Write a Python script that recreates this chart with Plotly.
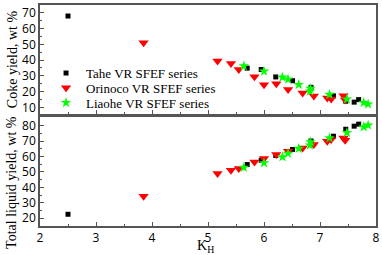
import plotly.graph_objects as go
from plotly.subplots import make_subplots

# Tahe VR SFEF series
tahe_k = [2.50, 5.70, 5.95, 6.21, 6.51, 6.84, 7.24, 7.46, 7.61, 7.69]
tahe_coke = [68.0, 34.9, 34.0, 29.3, 26.9, 22.7, 17.3, 13.9, 13.3, 14.9]
tahe_liquid = [22.6, 54.8, 57.6, 60.7, 64.6, 70.1, 73.2, 77.7, 79.7, 81.0]

# Orinoco VR SFEF series
orin_k = [3.85, 5.17, 5.41, 5.55, 5.83, 6.00, 6.22, 6.43, 6.69, 6.89, 7.13, 7.20, 7.42, 7.45]
orin_coke = [51.0, 39.5, 37.8, 34.0, 29.5, 24.4, 25.0, 21.3, 19.1, 17.2, 16.0, 15.3, 17.3, 14.7]
orin_liquid = [34.3, 49.0, 51.1, 52.2, 56.5, 58.7, 61.3, 63.5, 65.6, 67.8, 69.9, 71.1, 72.1, 70.5]

# Liaohe VR SFEF series
liao_k = [5.64, 6.00, 6.33, 6.43, 6.62, 6.83, 6.82, 7.17, 7.48, 7.78, 7.86]
liao_coke = [36.2, 32.9, 29.1, 27.8, 24.4, 21.9, 20.2, 18.1, 15.2, 13.0, 12.0]
liao_liquid = [52.9, 55.9, 59.8, 62.0, 65.2, 69.5, 67.4, 72.1, 75.5, 79.2, 80.3]

x_ticks = [2, 3, 4, 5, 6, 7, 8]
coke_ticks = [10, 20, 30, 40, 50, 60, 70]
liquid_ticks = [20, 30, 40, 50, 60, 70, 80]

fig = make_subplots(rows=2, cols=1, shared_xaxes=False, vertical_spacing=0.0)

series = [
    ("Tahe VR SFEF series", tahe_k, tahe_coke, tahe_liquid, "square", "black", 5, "legend", 0.692),
    ("Orinoco VR SFEF series", orin_k, orin_coke, orin_liquid, "triangle-down", "red", 9, "legend2", 0.625),
    ("Liaohe VR SFEF series", liao_k, liao_coke, liao_liquid, "star", "#00ff00", 8, "legend3", 0.558),
]
legend_layout = {}
for name, k, coke, liq, sym, col, sz, lg, ly in series:
    fig.add_trace(go.Scatter(x=k, y=coke, mode="markers", name=name, legend=lg,
                             marker=dict(symbol=sym, color=col, size=sz, line=dict(width=0))),
                  row=1, col=1)
    fig.add_trace(go.Scatter(x=k, y=liq, mode="markers", name=name, showlegend=False,
                             marker=dict(symbol=sym, color=col, size=sz, line=dict(width=0))),
                  row=2, col=1)
    legend_layout[lg] = dict(x=0.018, y=ly, xanchor="left", yanchor="middle",
                             font=dict(family="Liberation Serif", size=13, color="black"),
                             bgcolor="rgba(0,0,0,0)", itemwidth=30)

axis_common = dict(showline=True, mirror=True, linecolor="#555555", linewidth=1.5,
                   ticks="inside", ticklen=4, tickcolor="#555555", tickwidth=1,
                   showgrid=False, zeroline=False, automargin=False,
                   tickfont=dict(family="Open Sans", size=12, color="black"))

fig.update_xaxes(range=[2, 8], tickvals=x_ticks, showticklabels=False,
                 minor=dict(ticks="inside", ticklen=2, dtick=0.5, tickcolor="#555555"),
                 **axis_common, row=1, col=1)
fig.update_xaxes(range=[2, 8], tickvals=x_ticks, ticktext=[str(t) for t in x_ticks],
                 minor=dict(ticks="inside", ticklen=2, dtick=0.5, tickcolor="#555555"),
                 **axis_common, row=2, col=1)
fig.update_yaxes(range=[5.8, 75.0], tickvals=coke_ticks,
                 minor=dict(ticks="inside", ticklen=2, dtick=5, tickcolor="#555555"),
                 domain=[0.507, 1.0], **axis_common, row=1, col=1)
fig.update_yaxes(range=[15, 85.6], tickvals=liquid_ticks,
                 minor=dict(ticks="inside", ticklen=2, dtick=5, tickcolor="#555555"),
                 domain=[0.0, 0.493], **axis_common, row=2, col=1)

title_font = dict(family="Liberation Serif", size=14, color="black")
fig.add_annotation(text="Coke yield, wt %", xref="paper", yref="paper", x=-0.0833, y=0.755,
                   textangle=-90, showarrow=False, font=title_font, xanchor="center", yanchor="middle")
fig.add_annotation(text="Total liquid yield, wt %", xref="paper", yref="paper", x=-0.0833, y=0.195,
                   textangle=-90, showarrow=False, font=title_font, xanchor="center", yanchor="middle")
fig.add_annotation(text="K<sub>H</sub>", xref="paper", yref="paper", x=0.494, y=-0.0905,
                   showarrow=False, font=title_font, xanchor="center", yanchor="middle")

fig.update_layout(
    width=382, height=255,
    margin=dict(l=40, r=6, t=5, b=29),
    paper_bgcolor="white", plot_bgcolor="white",
    showlegend=True,
    **legend_layout,
)

fig.write_html("out.html", config={"displayModeBar": False},
               post_script="document.body.style.margin='0';")
